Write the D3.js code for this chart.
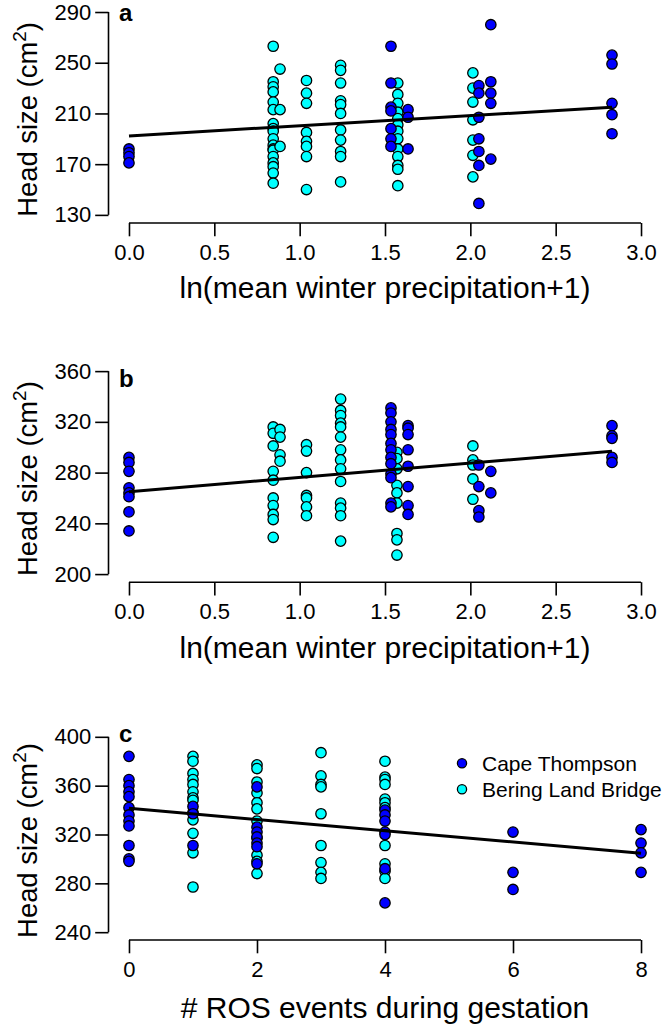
<!DOCTYPE html>
<html><head><meta charset="utf-8">
<script src="https://cdn.jsdelivr.net/npm/d3@7"></script>
<style>
body{margin:0;background:#fff}
svg{display:block}
text{font-family:"Liberation Sans",Arial,sans-serif;fill:#000}
</style>
</head><body>
<svg id="chart" width="666" height="1036"></svg>
<script>
// ---------- data (columns: x value, list of head sizes) ----------
const sites = ["Cape Thompson", "Bering Land Bridge"];
const siteColors = ["#0000ff", "#00ffff"];

// panel a: ln(mean winter precipitation+1) vs head size
const capeA = [
  [0, [182, 179, 176, 171]],
  [1.535, [263, 234, 215, 212, 198, 190, 184]],
  [1.635, [213, 207, 182]],
  [2.05, [232, 226, 207, 190, 180, 169, 139]],
  [2.12, [280, 235, 226, 218, 174]],
  [2.83, [256, 249, 218, 209, 194]]
];
const beringA = [
  [0.845, [263, 235, 231, 227, 219, 213, 202, 198, 196, 190, 185, 182, 181, 176, 171, 168, 163, 155]],
  [0.885, [245, 213, 184]],
  [1.04, [236, 226, 218, 195, 188, 184, 176, 150]],
  [1.24, [248, 244, 234, 220, 217, 210, 197, 189, 180, 176, 156]],
  [1.575, [234, 225, 218, 211, 206, 201, 196, 190, 182, 176, 169, 166, 153]],
  [2.015, [242, 230, 219, 205, 189, 177, 160]]
];
const fitA = [192.3, 7.99];   // intercept, slope

// panel b
const capeB = [
  [0, [292, 288, 281, 268, 264, 261, 249, 234]],
  [1.535, [331, 327, 320, 314, 310, 303, 298, 292, 287, 279, 276, 256, 253]],
  [1.635, [317, 315, 310, 298, 285, 269, 254, 247]],
  [2.05, [286, 269, 250, 245]],
  [2.12, [281, 264]],
  [2.83, [317, 309, 307, 292, 288]]
];
const beringB = [
  [0.845, [316, 311, 301, 281, 274, 260, 254, 247, 243, 229]],
  [0.885, [314, 308, 294, 289]],
  [1.04, [302, 297, 280, 262, 260, 253, 246]],
  [1.24, [338, 329, 325, 319, 316, 308, 298, 290, 283, 273, 256, 252, 246, 226]],
  [1.57, [296, 291, 283, 270, 264, 256, 232, 227, 215]],
  [2.015, [301, 290, 286, 275, 259]]
];
const fitB = [264.9, 11.3];

// panel c: # ROS events during gestation
const capeC = [
  [0, [384, 365, 360, 355, 351, 342, 336, 331, 327, 311, 300, 298]],
  [1, [343, 337, 311]],
  [2, [359, 326, 322, 318, 313, 310, 296]],
  [4, [340, 336, 331, 322, 320, 292, 264]],
  [6, [322, 289, 275]],
  [8, [324, 313, 305, 289]]
];
const beringC = [
  [1, [384, 380, 370, 365, 361, 355, 350, 348, 338, 332, 321, 305, 277]],
  [2, [377, 374, 363, 354, 346, 341, 331, 317, 303, 298, 288]],
  [3, [387, 368, 361, 359, 337, 311, 297, 289, 284]],
  [4, [380, 367, 365, 361, 349, 346, 342, 311, 296, 290, 284]]
];
const fitC = [341.5, -4.61];

const xTicksAB = [0, 0.5, 1, 1.5, 2, 2.5, 3];
const xTicksC = [0, 2, 4, 6, 8];
const yTicksA = [130, 170, 210, 250, 290];
const yTicksB = [200, 240, 280, 320, 360];
const yTicksC = [240, 280, 320, 360, 400];
const panelLabels = ["a", "b", "c"];
const xTitleAB = "ln(mean winter precipitation+1)";
const xTitleC = "# ROS events during gestation";

// ---------- drawing ----------
const svg = d3.select("#chart");
const L = 108.5, R = 661.5;

function ext(lo, hi) { const d = (hi - lo) * 0.04; return [lo - d, hi + d]; }

const panels = [
  {label: panelLabels[0], cape: capeA, bering: beringA, fit: fitA, fitX: [0, 2.83],
   xt: xTicksAB, xfmt: d3.format(".1f"), yt: yTicksA, top: 3.9, bottom: 223, xTitle: xTitleAB,
   labelY: 20.5, titleOff: 75},
  {label: panelLabels[1], cape: capeB, bering: beringB, fit: fitB, fitX: [0, 2.83],
   xt: xTicksAB, xfmt: d3.format(".1f"), yt: yTicksB, top: 363, bottom: 582.2, xTitle: xTitleAB,
   labelY: 386.5, titleOff: 76},
  {label: panelLabels[2], cape: capeC, bering: beringC, fit: fitC, fitX: [0, 8],
   xt: xTicksC, xfmt: d3.format("d"), yt: yTicksC, top: 729, bottom: 940, xTitle: xTitleC,
   labelY: 742, titleOff: 78, legend: true}
];

panels.forEach(p => {
  const x = d3.scaleLinear().domain(ext(p.xt[0], p.xt[p.xt.length - 1])).range([L, R]);
  const y = d3.scaleLinear().domain(ext(p.yt[0], p.yt[p.yt.length - 1])).range([p.bottom, p.top]);
  const g = svg.append("g");

  // points: Bering (cyan) first, then Cape (blue)
  [[p.bering, 1], [p.cape, 0]].forEach(([cols, si]) => {
    const pts = [];
    cols.forEach(([xv, ys]) => ys.forEach(yv => pts.push([xv, yv])));
    g.append("g").selectAll("circle").data(pts).join("circle")
      .attr("cx", d => x(d[0])).attr("cy", d => y(d[1])).attr("r", 5.2)
      .attr("fill", siteColors[si]).attr("stroke", "#000").attr("stroke-width", 1.3);
  });

  // regression line
  g.append("line")
    .attr("x1", x(p.fitX[0])).attr("y1", y(p.fit[0] + p.fit[1] * p.fitX[0]))
    .attr("x2", x(p.fitX[1])).attr("y2", y(p.fit[0] + p.fit[1] * p.fitX[1]))
    .attr("stroke", "#000").attr("stroke-width", 3);

  // y axis
  const ya = g.append("g").attr("transform", `translate(${L},0)`)
    .call(d3.axisLeft(y).tickValues(p.yt).tickSize(13.3).tickPadding(4));
  ya.select(".domain").remove();
  ya.append("line").attr("x1", 0).attr("x2", 0)
    .attr("y1", y(p.yt[0])).attr("y2", y(p.yt[p.yt.length - 1]))
    .attr("stroke", "#000").attr("stroke-width", 1.6);
  ya.selectAll(".tick line").attr("stroke", "#000").attr("stroke-width", 1.6);
  ya.selectAll(".tick text").attr("font-size", 22).attr("font-family", "Liberation Sans, Arial, sans-serif").attr("fill", "#000");

  // x axis
  const xa = g.append("g").attr("transform", `translate(0,${p.bottom})`)
    .call(d3.axisBottom(x).tickValues(p.xt).tickFormat(p.xfmt).tickSize(13.3).tickPadding(7.7));
  xa.select(".domain").remove();
  xa.append("line").attr("y1", 0).attr("y2", 0)
    .attr("x1", x(p.xt[0])).attr("x2", x(p.xt[p.xt.length - 1]))
    .attr("stroke", "#000").attr("stroke-width", 1.6);
  xa.selectAll(".tick line").attr("stroke", "#000").attr("stroke-width", 1.6);
  xa.selectAll(".tick text").attr("font-size", 22).attr("font-family", "Liberation Sans, Arial, sans-serif").attr("fill", "#000");

  // x title
  g.append("text").attr("x", (L + R) / 2).attr("y", p.bottom + p.titleOff)
    .attr("text-anchor", "middle").attr("font-size", 30).text(p.xTitle);

  // y title with superscript
  const cy = (p.top + p.bottom) / 2 + 6;
  const yt = g.append("text").attr("transform", `translate(37,${cy}) rotate(-90)`)
    .attr("text-anchor", "middle").attr("font-size", 27.4);
  yt.append("tspan").text("Head size (cm");
  yt.append("tspan").attr("font-size", 19).attr("dy", -11).text("2");
  yt.append("tspan").attr("dy", 11).text(")");

  // panel label
  g.append("text").attr("x", 119).attr("y", p.labelY)
    .attr("font-size", 24).attr("font-weight", "bold").text(p.label);

  if (p.legend) {
    const lg = g.append("g");
    sites.forEach((s, i) => {
      const ly = 763.3 + i * 26;
      lg.append("circle").attr("cx", 462).attr("cy", ly).attr("r", 4.6)
        .attr("fill", siteColors[i]).attr("stroke", "#000").attr("stroke-width", 1.3);
      lg.append("text").attr("x", 482).attr("y", ly).attr("dy", "0.37em")
        .attr("font-size", 21).text(s);
    });
  }
});
</script>
</body></html>
